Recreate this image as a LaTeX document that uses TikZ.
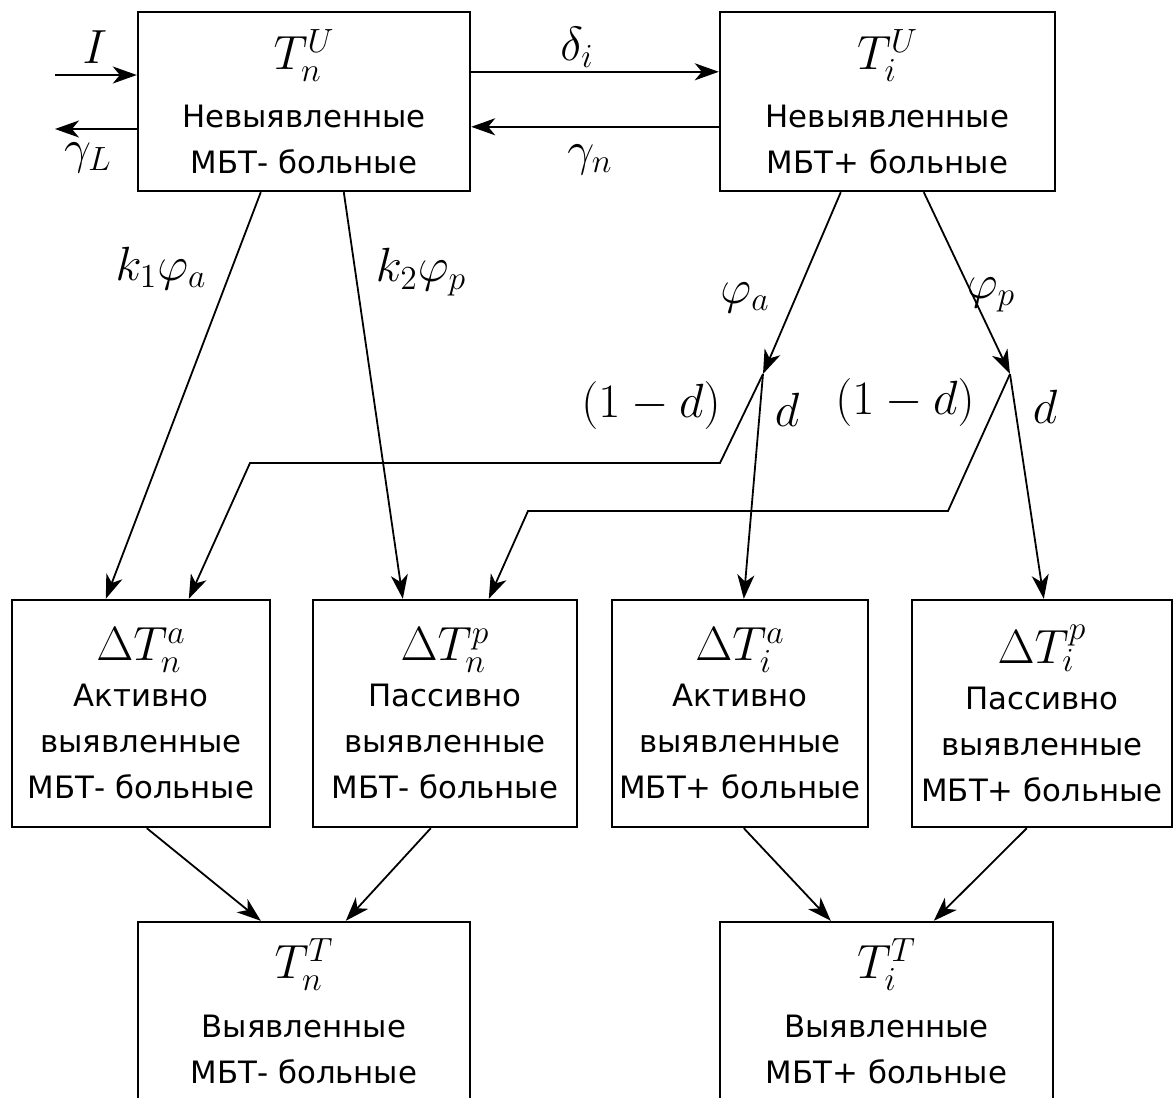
\documentclass[tikz,border=0pt]{standalone}
\usepackage{fix-cm}
\usepackage{fontspec}
\setmainfont{DejaVu Sans}
\usetikzlibrary{arrows.meta,calc}
\newcommand{\mth}[1]{{\fontsize{24}{28}\selectfont$#1\vphantom{\Delta T_n^p T_i^a}$}}
\begin{document}
\begin{tikzpicture}[x=0.5pt,y=-0.5pt,
  box/.style={draw,line width=1.2pt,align=center,inner sep=0pt,
    font=\fontsize{15.4}{23}\selectfont},
  topbox/.style={box,minimum height=89.5pt},
  midbox/.style={box,minimum height=113.5pt},
  arr/.style={-{Stealth[length=12pt,width=8.5pt,inset=3.5pt]},line width=0.9pt},
  lbl/.style={inner sep=0pt,font=\fontsize{24}{28}\selectfont}]
\useasboundingbox (0,0) rectangle (1174,1098);
% boxes
\node[topbox,minimum width=166pt] (tnu) at (304,101.5)
  {\mth{T_n^U}\\[6pt]Невыявленные\\МБТ- больные};
\node[topbox,minimum width=167.5pt] (tiu) at (887.5,101.5)
  {\mth{T_i^U}\\[6pt]Невыявленные\\МБТ+ больные};
\node[midbox,minimum width=129pt] (m1) at (141,713.5)
  {\mth{\Delta T_n^a}\\Активно\\выявленные\\МБТ- больные};
\node[midbox,minimum width=132pt] (m2) at (445,713.5)
  {\mth{\Delta T_n^p}\\Пассивно\\выявленные\\МБТ- больные};
\node[midbox,minimum width=128pt] (m3) at (740,713.5)
  {\mth{\Delta T_i^a}\\Активно\\выявленные\\МБТ+ больные};
\node[midbox,minimum width=130pt] (m4) at (1042,713.5)
  {\mth{\Delta T_i^p}\\Пассивно\\выявленные\\МБТ+ больные};
\node[topbox,minimum width=166pt] (b1) at (304,1011.5)
  {\mth{T_n^T}\\[6.5pt]Выявленные\\МБТ- больные};
\node[topbox,minimum width=166.5pt] (b2) at (886.5,1011.5)
  {\mth{T_i^T}\\[6.5pt]Выявленные\\МБТ+ больные};
% free ends and split points
\coordinate (inS) at (55,75);
\coordinate (outE) at (55,129);
\coordinate (s1) at (763,374);
\coordinate (s2) at (1010,374);
% horizontal arrows
\draw[arr] (inS) -- (inS -| tnu.west);
\draw[arr] (tnu.west |- outE) -- (outE);
\draw[arr] ($(tnu.north east)+(0,61)$) -- ($(tiu.north west)+(0,61)$);
\draw[arr] ($(tiu.north west)+(0,116)$) -- ($(tnu.north east)+(0,116)$);
% downward
\draw[arr] ($(tnu.south west)+(124,0)$) -- ($(m1.north west)+(95,0)$);
\draw[arr] ($(tnu.south west)+(207,0)$) -- ($(m2.north west)+(91,0)$);
\draw[arr] ($(tiu.south west)+(122,0)$) -- (s1);
\draw[arr] ($(tiu.south west)+(205,0)$) -- (s2);
\draw[arr] (s1) -- ($(m3.north west)+(133,0)$);
\draw[arr] (s1) -- (720,463) -- (250,463) -- ($(m1.north west)+(178,0)$);
\draw[arr] (s2) -- ($(m4.north west)+(133,0)$);
\draw[arr] (s2) -- (948,511) -- (528,511) -- ($(m2.north west)+(177,0)$);
\draw[arr] ($(m1.south west)+(136,0)$) -- ($(b1.north west)+(124,0)$);
\draw[arr] ($(m2.south west)+(119,0)$) -- ($(b1.north west)+(209,0)$);
\draw[arr] ($(m3.south west)+(133,0)$) -- ($(b2.north west)+(112,0)$);
\draw[arr] ($(m4.south west)+(116,0)$) -- ($(b2.north west)+(215,0)$);
% labels
\node[lbl] (lI) at (95,47) {$I$};
\node[lbl] (lgL) at (88,158) {$\gamma_L$};
\node[lbl] (ldi) at (577,47) {$\delta_i$};
\node[lbl] (lgn) at (590,160) {$\gamma_n$};
\node[lbl] (lk1) at (161,268) {$k_1\varphi_a$};
\node[lbl] (lk2) at (421,272) {$k_2\varphi_p$};
\node[lbl] (lfa) at (745,298) {$\varphi_a$};
\node[lbl] (lfp) at (991,295) {$\varphi_p$};
\node[lbl] (l1d1) at (651,405) {$(1-d)$};
\node[lbl] (ld1) at (787,410) {$d$};
\node[lbl] (l1d2) at (905,402) {$(1-d)$};
\node[lbl] (ld2) at (1045,407) {$d$};
\end{tikzpicture}
\end{document}
